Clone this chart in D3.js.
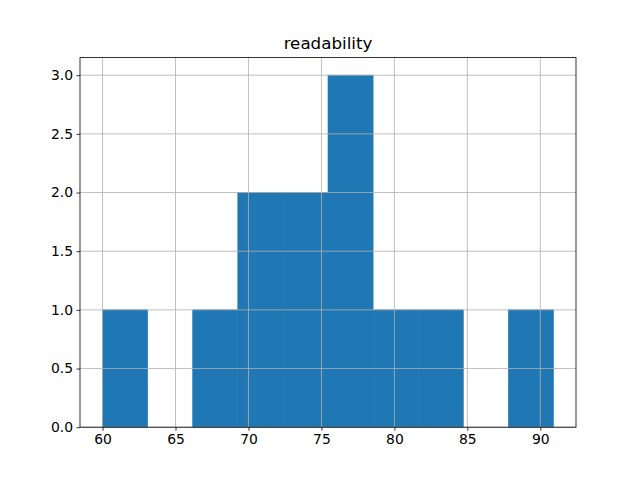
<!DOCTYPE html>
<html><head><meta charset="utf-8">
<script src="https://cdn.jsdelivr.net/npm/d3@7"></script>
<style>body{margin:0;background:#fff;} svg{display:block;} text{font-family:"DejaVu Sans",sans-serif;}</style>
</head><body>
<script>
const title = "readability";
const binEdges = [60, 63.09, 66.18, 69.27, 72.36, 75.45, 78.54, 81.63, 84.72, 87.81, 90.9];
const binCounts = [1, 0, 1, 2, 2, 3, 1, 1, 0, 1];
const xTicks = [60, 65, 70, 75, 80, 85, 90];
const yTicks = [0, 0.5, 1.0, 1.5, 2.0, 2.5, 3.0];

const W = 640, H = 480;
const L = 80, R = 576, T = 57.6, B = 427.2;
const svg = d3.select("body").append("svg").attr("width", W).attr("height", H);

const span = binEdges[binEdges.length-1] - binEdges[0];
const x = d3.scaleLinear().domain([binEdges[0] - 0.05*span, binEdges[binEdges.length-1] + 0.05*span]).range([L, R]);
const y = d3.scaleLinear().domain([0, d3.max(binCounts)*1.05]).range([B, T]);

const bins = binCounts.map((c, i) => ({x0: binEdges[i], x1: binEdges[i+1], c}));
svg.append("g").selectAll("rect").data(bins.filter(d => d.c > 0)).join("rect")
  .attr("x", d => x(d.x0)).attr("width", d => x(d.x1) - x(d.x0))
  .attr("y", d => y(d.c)).attr("height", d => y(0) - y(d.c))
  .attr("fill", "#1f77b4").attr("stroke", "#1f77b4").attr("stroke-width", 0.6);

// grid
const grid = svg.append("g").attr("stroke", "#b0b0b0").attr("stroke-width", 0.8);
xTicks.forEach(t => grid.append("line").attr("x1", x(t)).attr("x2", x(t)).attr("y1", T).attr("y2", B));
yTicks.forEach(t => grid.append("line").attr("x1", L).attr("x2", R).attr("y1", y(t)).attr("y2", y(t)));

// axes
const xAxis = d3.axisBottom(x).tickValues(xTicks).tickSize(3.5).tickPadding(3.5).tickFormat(d3.format("d"));
const yAxis = d3.axisLeft(y).tickValues(yTicks).tickSize(3.5).tickPadding(3.5).tickFormat(d3.format(".1f"));
const gx = svg.append("g").attr("transform", `translate(0,${B})`).call(xAxis);
const gy = svg.append("g").attr("transform", `translate(${L},0)`).call(yAxis);
[gx, gy].forEach(g => {
  g.select(".domain").remove();
  g.selectAll(".tick line").attr("stroke", "#000").attr("stroke-width", 0.8);
  g.selectAll(".tick text").attr("font-size", "13.9px").attr("fill", "#000").attr("font-family", "DejaVu Sans");
});

// spines
svg.append("rect").attr("x", L).attr("y", T).attr("width", R-L).attr("height", B-T)
  .attr("fill", "none").attr("stroke", "#000").attr("stroke-width", 0.8);

svg.append("text").attr("x", (L+R)/2).attr("y", T - 9).attr("text-anchor", "middle")
  .attr("font-size", "16.7px").attr("fill", "#000").text(title);
</script>
</body></html>
